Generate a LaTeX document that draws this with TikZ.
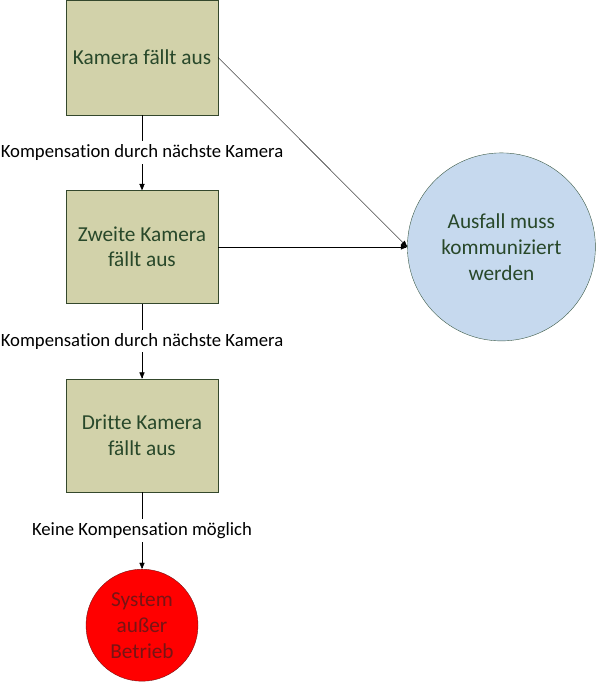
\documentclass[tikz,border=0pt]{standalone}
\usepackage{fontspec}
\setmainfont{Carlito}[Ligatures=NoCommon]
\usetikzlibrary{positioning}
\usetikzlibrary{arrows}

\definecolor{boxfill}{RGB}{210,210,170}
\definecolor{boxline}{RGB}{52,72,44}
\definecolor{boxtext}{RGB}{40,72,42}
\definecolor{infofill}{RGB}{198,217,238}
\definecolor{infoline}{RGB}{60,90,70}
\definecolor{stoptext}{RGB}{120,20,20}

\begin{document}
\begin{tikzpicture}[x=1pt, y=1pt,
    failbox/.style={draw=boxline, fill=boxfill, text=boxtext, rectangle, minimum width=152pt, minimum height=113pt, align=center, font=\fontsize{21.3}{25.5}\selectfont},
    state/.style={circle, align=center, font=\fontsize{21.3}{26}\selectfont},
    edgelabel/.style={fill=white, font=\fontsize{18.7}{22}\selectfont},
    flow/.style={->, >={triangle 45}}]

  \useasboundingbox (0,0) rectangle (597,-682);

  % Define nodes
  \node[failbox, minimum height=115pt] (cam1) at (142,-57.5) {Kamera fällt aus};
  \node[failbox, below=75pt of cam1] (cam2) {Zweite Kamera\\fällt aus};
  \node[failbox, below=75pt of cam2] (cam3) {Dritte Kamera\\fällt aus};
  \node[state, draw=infoline, fill=infofill, text=boxtext, minimum size=188pt, right=189pt of cam2] (report) {Ausfall muss\\kommuniziert\\werden};
  \node[state, draw=stoptext, fill=red, text=stoptext, minimum size=112pt, inner sep=0pt, below=77pt of cam3] (stop) {System\\außer\\Betrieb};

  % Connect the nodes
  \draw [flow] (cam1) -- node[edgelabel] {Kompensation durch nächste Kamera} (cam2);
  \draw [flow] (cam2) -- node[edgelabel] {Kompensation durch nächste Kamera} (cam3);
  \draw [flow] (cam3) -- node[edgelabel] {Keine Kompensation möglich} (stop);
  \draw [flow, thin] (cam1.east) -- (report.west);
  \draw [flow] (cam2) -- (report);

\end{tikzpicture}
\end{document}
